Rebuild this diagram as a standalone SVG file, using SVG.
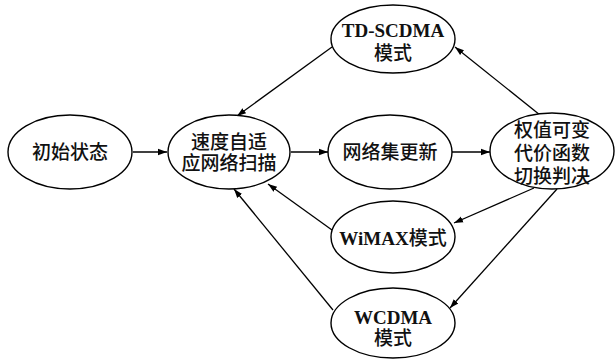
<svg xmlns="http://www.w3.org/2000/svg" width="616" height="360" viewBox="0 0 616 360">
<style>
.n ellipse{fill:#fff;stroke:#000;stroke-width:1.4}
text{font-family:"Liberation Serif","Noto Sans CJK SC",serif;font-size:19px;font-weight:500;text-anchor:middle;fill:#111}
.b{font-weight:bold}
#edges line{stroke:#000;stroke-width:1.3;marker-end:url(#ah)}
</style>
<defs>
<marker id="ah" viewBox="0 0 10 10" refX="10" refY="5" markerWidth="9" markerHeight="9" markerUnits="userSpaceOnUse" orient="auto">
<path d="M0,1.5 L10,5 L0,8.5 Z" fill="#000"/>
</marker>
</defs>
<rect width="616" height="360" fill="#fff"/>
<g id="edges">
<line x1="133" y1="152" x2="167" y2="152"/>
<line x1="291" y1="152" x2="328" y2="152"/>
<line x1="452" y1="152" x2="490" y2="152"/>
<line x1="332" y1="47" x2="237" y2="116"/>
<line x1="540" y1="115" x2="455" y2="47"/>
<line x1="534" y1="188" x2="454" y2="223"/>
<line x1="557" y1="189" x2="450" y2="308"/>
<line x1="332" y1="230" x2="268" y2="184"/>
<line x1="333" y1="310" x2="234" y2="189"/>
</g>
<g id="n1" class="n"><ellipse cx="70" cy="152" rx="62" ry="37"/><text x="70" y="159">初始状态</text></g>
<g id="n2" class="n"><ellipse cx="229" cy="152" rx="61" ry="37"/><text x="229" y="149">速度自适</text><text x="229" y="170">应网络扫描</text></g>
<g id="n3" class="n"><ellipse cx="393" cy="39" rx="62" ry="34"/><text x="393" y="37" class="b">TD-SCDMA</text><text x="393" y="60">模式</text></g>
<g id="n4" class="n"><ellipse cx="390" cy="152" rx="62" ry="37"/><text x="390" y="159">网络集更新</text></g>
<g id="n5" class="n"><ellipse cx="552" cy="151" rx="62" ry="38"/><text x="552" y="137">权值可变</text><text x="552" y="160">代价函数</text><text x="552" y="183">切换判决</text></g>
<g id="n6" class="n"><ellipse cx="393" cy="237" rx="62" ry="36"/><text x="393" y="245"><tspan class="b">WiMAX</tspan>模式</text></g>
<g id="n7" class="n"><ellipse cx="393" cy="323" rx="62" ry="35"/><text x="393" y="324" class="b">WCDMA</text><text x="393" y="345">模式</text></g>
</svg>
